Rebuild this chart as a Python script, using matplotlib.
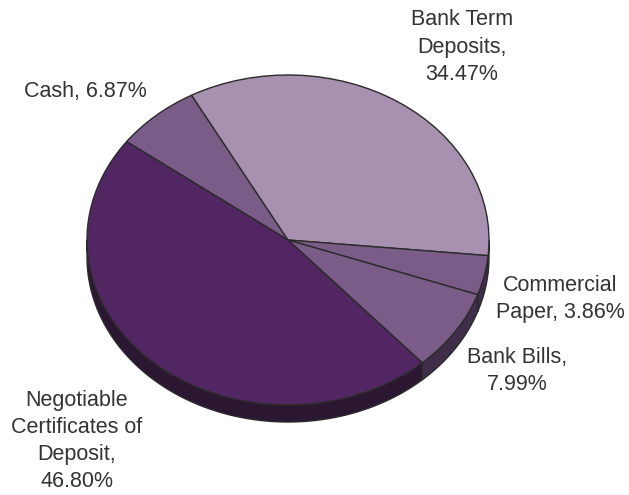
import matplotlib
matplotlib.use('Agg')
import matplotlib.pyplot as plt
import numpy as np
from matplotlib.patches import Polygon

# slices in drawing order (clockwise, starting from Cash)
names = ['Cash', 'Bank Term\nDeposits', 'Commercial\nPaper', 'Bank Bills', 'Negotiable\nCertificates of\nDeposit']
shares = [6.87, 34.47, 3.86, 7.99, 46.80]
seps = [' ', '\n', ' ', '\n', '\n']

top_colors = ['#7B5C89', '#A891B0', '#7B5C89', '#7B5C89', '#522662']
side_colors = ['#3F2D4A', '#5A4A61', '#3F2D4A', '#3F2D4A', '#2C1733']

# label block centres, pixels from top-left
label_pos = [(85, 91), (462, 47), (560, 299), (517, 371), (77, 441)]

W, H = 629, 495
cx, cy = 288, 240      # pie centre
rx, ry = 201, 165      # ellipse radii
depth = 17             # thickness of the 3d rim

fig = plt.figure(figsize=(W / 100, H / 100), dpi=100)
ax = fig.add_axes([0, 0, 1, 1])

wedges, _ = ax.pie(shares, startangle=143.4, counterclock=False, colors=top_colors,
                   wedgeprops=dict(edgecolor='#2b2b2b', linewidth=1.0))
for w in wedges:
    w.set_zorder(3)

# rim of the tilted pie: only the front (lower) half is visible
d = depth / ry
for w, c in zip(wedges, side_colors):
    for shift in (-360, 0, 360):
        a = max(w.theta1 + shift, 180)
        b = min(w.theta2 + shift, 360)
        if b <= a:
            continue
        t = np.radians(np.linspace(a, b, 80))
        xs, ys = np.cos(t), np.sin(t)
        pts = np.column_stack([np.r_[xs, xs[::-1]], np.r_[ys, ys[::-1] - d]])
        ax.add_patch(Polygon(pts, closed=True, facecolor=c, edgecolor='#2b2b2b',
                             linewidth=1.0, zorder=2))

ax.set_aspect('auto')
ax.set_xlim(-cx / rx, (W - cx) / rx)
ax.set_ylim(-(H - cy) / ry, cy / ry)
ax.axis('off')

for name, v, sep, (x, y) in zip(names, shares, seps, label_pos):
    fig.text(x / W, 1 - y / H, f'{name},{sep}{v:.2f}%', ha='center', va='center',
             fontsize=15.5, family='Liberation Sans', color='#333333', linespacing=1.39)

fig.savefig('out.png', dpi=100, facecolor='white')
